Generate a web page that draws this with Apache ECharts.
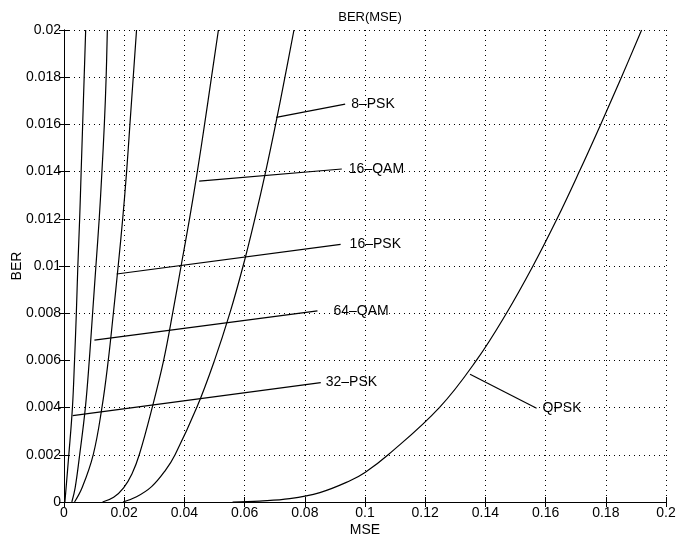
<!doctype html>
<html lang="en">
<head>
  <meta charset="utf-8">
  <title>BER(MSE)</title>
  <script src="https://cdn.jsdelivr.net/npm/echarts@6/dist/echarts.min.js"></script>
  <style>
    body { margin: 0; background: #fff; }
    #chart { width: 676px; height: 538px; }
  </style>
</head>
<body>
  <div id="chart"></div>
  <script type="text/javascript">
    // curves, [MSE, BER]
    const curve1 = [[0.0003, 0], [0.0016, 0.002], [0.0028, 0.004], [0.0035, 0.006], [0.0041, 0.008], [0.0046, 0.01], [0.0052, 0.012], [0.0057, 0.014], [0.0062, 0.016], [0.0067, 0.018], [0.0072, 0.02]];
    const curve2 = [[0.0026, 0], [0.0037, 0.0006], [0.0052, 0.002], [0.0071, 0.004], [0.0084, 0.006], [0.0095, 0.008], [0.0106, 0.01], [0.0117, 0.012], [0.0126, 0.014], [0.0134, 0.016], [0.014, 0.018], [0.0144, 0.02]];
    const curve3 = [[0.0035, 0], [0.006, 0.0006], [0.0097, 0.002], [0.0126, 0.004], [0.0147, 0.006], [0.0164, 0.008], [0.018, 0.01], [0.0195, 0.012], [0.0208, 0.014], [0.0219, 0.016], [0.023, 0.018], [0.0241, 0.02]];
    const curve4 = [[0.0128, 0], [0.0165, 0.0002], [0.0198, 0.0006], [0.0226, 0.0012], [0.025, 0.002], [0.0293, 0.004], [0.0331, 0.006], [0.0361, 0.008], [0.0389, 0.01], [0.0417, 0.012], [0.0443, 0.014], [0.0467, 0.016], [0.049, 0.018], [0.0513, 0.02]];
    const curve5 = [[0.0196, 0], [0.0241, 0.00022], [0.0291, 0.00065], [0.0338, 0.00136], [0.0369, 0.002], [0.0441, 0.004], [0.05, 0.006], [0.0551, 0.008], [0.0595, 0.01], [0.0634, 0.012], [0.067, 0.014], [0.0703, 0.016], [0.0734, 0.018], [0.0764, 0.02]];
    const curve6 = [[0.056, 0], [0.065, 0.00004], [0.075, 0.00014], [0.085, 0.0004], [0.095, 0.0009], [0.1, 0.00125], [0.1077, 0.002], [0.1247, 0.004], [0.137, 0.006], [0.147, 0.008], [0.1558, 0.01], [0.1638, 0.012], [0.1712, 0.014], [0.1783, 0.016], [0.1852, 0.018], [0.1919, 0.02]];
    const curves = [curve1, curve2, curve3, curve4, curve5, curve6];

    // annotation pointers: label, start on curve, end at label
    const labelNames = ['8–PSK', '16–QAM', '16–PSK', '64–QAM', '32–PSK', 'QPSK'];
    const labelStarts = [[0.0705, 0.0163], [0.0449, 0.0136], [0.0175, 0.00966], [0.0101, 0.00686], [0.0029, 0.00366], [0.1349, 0.00541]];
    const labelEnds = [[0.0934, 0.01686], [0.0923, 0.01411], [0.0919, 0.01092], [0.0842, 0.0081], [0.0853, 0.00506], [0.157, 0.00397]];
    const labelGaps = [6, 7, 9, 16, 5, 6];

    const font = '"Liberation Sans", Arial, Helvetica, sans-serif';
    const fmt = (v) => String(+v.toFixed(4));
    const dotted = { color: '#000', width: 1, type: [1, 4] };

    let series = curves.map((c) => ({
      type: 'line',
      data: c,
      showSymbol: false,
      smooth: 0.4,
      lineStyle: { color: '#000', width: 1.2 },
      silent: true
    }));
    labelNames.forEach((name, i) => {
      series.push({
        type: 'line',
        showSymbol: false,
        silent: true,
        lineStyle: { color: '#000', width: 1.2 },
        data: [labelStarts[i], labelEnds[i]],
        endLabel: {
          show: true, distance: labelGaps[i], formatter: name,
          color: '#000', fontSize: 14, fontFamily: font
        }
      });
    });

    let option = {
      animation: false,
      title: {
        text: 'BER(MSE)',
        left: 365, top: 6, textAlign: 'center',
        textStyle: { color: '#000', fontSize: 13, fontWeight: 'normal', fontFamily: font }
      },
      grid: { left: 64, right: 10, top: 30, bottom: 36, outerBoundsMode: 'none', containLabel: false },
      xAxis: [{
        type: 'value', min: 0, max: 0.2, interval: 0.02,
        name: 'MSE', nameLocation: 'middle', nameGap: 21, nameMoveOverlap: false,
        nameTextStyle: { color: '#000', fontSize: 14, fontFamily: font },
        axisLine: { lineStyle: { color: '#000', width: 1 } },
        axisTick: { inside: true, length: 5, lineStyle: { color: '#000' } },
        axisLabel: { color: '#000', fontSize: 14, fontFamily: font, margin: 4, formatter: fmt },
        splitLine: { show: true, lineStyle: dotted }
      }, {
        type: 'value', min: 0, max: 0.2, interval: 0.02, position: 'top',
        axisLine: { show: true, lineStyle: { color: '#000', width: 1 } },
        axisTick: { show: true, inside: true, length: 5, lineStyle: { color: '#000' } },
        axisLabel: { show: false }, splitLine: { show: false }
      }],
      yAxis: [{
        type: 'value', min: 0, max: 0.02, interval: 0.002,
        name: 'BER', nameLocation: 'middle', nameGap: 40, nameMoveOverlap: false,
        nameTextStyle: { color: '#000', fontSize: 14, fontFamily: font },
        axisLine: { show: true, lineStyle: { color: '#000', width: 1 } },
        axisTick: { show: true, inside: true, length: 5, lineStyle: { color: '#000' } },
        axisLabel: { color: '#000', fontSize: 14, fontFamily: font, margin: 3, formatter: fmt },
        splitLine: { show: true, lineStyle: dotted }
      }, {
        type: 'value', min: 0, max: 0.02, interval: 0.002, position: 'right',
        axisLine: { show: true, lineStyle: { color: '#000', width: 1 } },
        axisTick: { show: true, inside: true, length: 5, lineStyle: { color: '#000' } },
        axisLabel: { show: false }, splitLine: { show: false }
      }],
      series: series
    };

    let chart = echarts.init(document.getElementById('chart'), null, { renderer: 'canvas' });
    chart.setOption(option);
  </script>
</body>
</html>
